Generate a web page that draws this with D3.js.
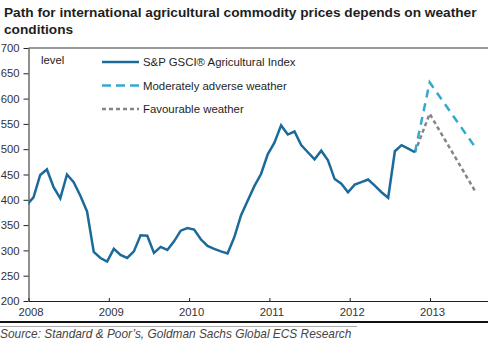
<!DOCTYPE html>
<html><head><meta charset="utf-8">
<script src="https://cdn.jsdelivr.net/npm/d3@7"></script>
<style>
html,body{margin:0;padding:0;background:#fff;}
svg{display:block;font-family:"Liberation Sans",Arial,sans-serif;}
</style></head>
<body><svg id="c" width="488" height="364"></svg>
<script>
// ---- data ----
const titleLines = ["Path for international agricultural commodity prices depends on weather", "conditions"];
const sourceText = "Source: Standard & Poor\u2019s, Goldman Sachs Global ECS Research";
const yTicks = [200, 250, 300, 350, 400, 450, 500, 550, 600, 650, 700];
const yearLabels = ["2008", "2009", "2010", "2011", "2012", "2013"];
const seriesNames = ["S&P GSCI\u00AE Agricultural Index", "Moderately adverse weather", "Favourable weather"];
// monthly index values, Jan 2008 .. Nov 2012
const indexValues = [390, 405, 449, 460, 425, 403, 450, 435, 408, 377, 297, 285,
  278, 303, 291, 285, 298, 330, 329, 295, 307, 301, 318, 339,
  344, 341, 322, 309, 303, 298, 294, 326, 369, 398, 427, 451,
  490, 513, 547, 529, 535, 508, 494, 480, 497, 478, 441, 432,
  415, 430, 435, 440, 428, 415, 404, 496, 508, 501, 494];
// scenario paths (months since Jan 2008)
const scenarioMonths = [58, 60.2, 67.0];
const adverseValues = [494, 632, 504];
const favourableValues = [494, 570, 417];

(function () {
// ---- layout ----
const svg = d3.select("#c");
const pLeft = 28.5, pTop = 48, pBottom = 301, pRight = 488;
const x = d3.scaleLinear().domain([0, 60]).range([pLeft, 430]);
const y = d3.scaleLinear().domain([200, 700]).range([pBottom, pTop]);
const monthPos = m => x(m - 0.25);

// title
const title = svg.append("g");
titleLines.forEach((t, i) => {
  title.append("text").attr("x", 4).attr("y", 16.5 + i * 17.8)
    .attr("font-size", 13).attr("font-weight", "bold").attr("fill", "#1e1e1e").text(t);
});
const t0 = title.select("text").node();
const w0 = t0.getComputedTextLength();
title.selectAll("text").attr("font-size", 13 * 473 / w0);

// clip
svg.append("clipPath").attr("id", "clip").append("rect")
  .attr("x", pLeft).attr("y", pTop - 5).attr("width", pRight - pLeft).attr("height", pBottom - pTop + 5);

// top border
svg.append("line").attr("x1", pLeft).attr("x2", pRight).attr("y1", pTop).attr("y2", pTop)
  .attr("stroke", "#333").attr("stroke-width", 1);

// y axis
const yAxis = svg.append("g").attr("transform", `translate(${pLeft},0)`)
  .call(d3.axisLeft(y).tickValues(yTicks).tickSizeInner(5).tickSizeOuter(0).tickPadding(4));
yAxis.select(".domain").attr("stroke", "#222");
yAxis.selectAll(".tick line").attr("stroke", "#222");
yAxis.selectAll("text").attr("font-size", 11.3).attr("fill", "#333")
  .attr("font-family", "Liberation Sans, Arial, sans-serif");

// x axis
const xFull = x.copy().domain([0, x.invert(pRight)]).range([pLeft, pRight]);
const yearMonths = yearLabels.map((d, i) => i * 12);
const xAxis = svg.append("g").attr("transform", `translate(0,${pBottom})`)
  .call(d3.axisBottom(xFull).tickValues(yearMonths).tickFormat((d, i) => yearLabels[i])
    .tickSizeInner(-3).tickSizeOuter(0).tickPadding(7));
xAxis.select(".domain").attr("stroke", "#222");
xAxis.selectAll(".tick line").attr("stroke", "#222");
xAxis.selectAll("text").attr("font-size", 11.3).attr("fill", "#333").attr("dx", 2)
  .attr("font-family", "Liberation Sans, Arial, sans-serif");

// lines
const line = d3.line().x(d => monthPos(d[0])).y(d => y(d[1]));
const plot = svg.append("g").attr("clip-path", "url(#clip)");
plot.append("path").datum(scenarioMonths.map((m, i) => [m, favourableValues[i]]))
  .attr("d", line).attr("fill", "none").attr("stroke", "#848484").attr("stroke-width", 2.5)
  .attr("stroke-dasharray", "4,3");
plot.append("path").datum(scenarioMonths.map((m, i) => [m, adverseValues[i]]))
  .attr("d", line).attr("fill", "none").attr("stroke", "#36a9cb").attr("stroke-width", 2.5)
  .attr("stroke-dasharray", "8,6");
plot.append("path").datum(indexValues.map((v, i) => [i, v]))
  .attr("d", line).attr("fill", "none").attr("stroke", "#1b6a9a").attr("stroke-width", 2.5)
  .attr("stroke-linejoin", "miter");

// level label
svg.append("text").attr("x", 41).attr("y", 64).attr("font-size", 11.3).attr("fill", "#222").text("level");

// legend
const legStyles = [
  {c: "#1b6a9a", dash: null},
  {c: "#36a9cb", dash: "9,5"},
  {c: "#848484", dash: "4,3"}
];
seriesNames.forEach((n, i) => {
  const yy = 62 + i * 23.5;
  svg.append("line").attr("x1", 102).attr("x2", 139).attr("y1", yy).attr("y2", yy)
    .attr("stroke", legStyles[i].c).attr("stroke-width", 2.5)
    .attr("stroke-dasharray", legStyles[i].dash);
  svg.append("text").attr("x", 143).attr("y", yy + 4).attr("font-size", 11.4)
    .attr("fill", "#1e1e1e").text(n);
});

// bottom rules and source
svg.append("rect").attr("x", 0).attr("y", 321).attr("width", 488).attr("height", 2).attr("fill", "#111");
svg.append("rect").attr("x", 0).attr("y", 326).attr("width", 357).attr("height", 1).attr("fill", "#aaa");
const src = svg.append("text").attr("x", 0).attr("y", 337.5).attr("font-size", 10.5)
  .attr("font-style", "italic").attr("fill", "#444").text(sourceText);
const sw = src.node().getComputedTextLength();
src.attr("font-size", 10.5 * 352 / sw);
})();
</script>
</body></html>
